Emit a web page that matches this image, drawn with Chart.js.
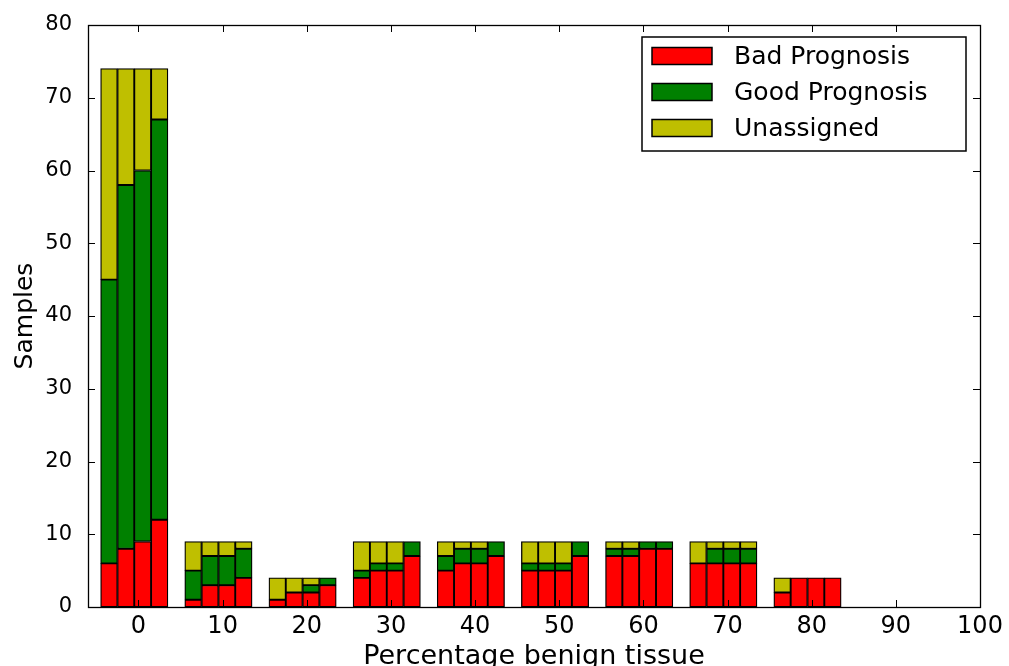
<!DOCTYPE html>
<html>
<head>
<meta charset="utf-8">
<title>Percentage benign tissue</title>
<script src="https://cdn.jsdelivr.net/npm/chart.js@4.4.1/dist/chart.umd.min.js"></script>
<style>
  html, body { margin: 0; padding: 0; background: #fff; }
  #wrap { width: 1009px; height: 666px; }
</style>
</head>
<body>
<div id="wrap"><canvas id="benignChart"></canvas></div>
<script>
// bins of percentage benign tissue, four bars per bin
let groups = [0, 10, 20, 30, 40, 50, 60, 70, 80];
let offsets = [-3.5, -1.5, 0.5, 2.5];

// samples per bar (4 bars per bin, left to right)
let badPrognosis  = [6, 8, 9, 12,  1, 3, 3, 4,  1, 2, 2, 3,  4, 5, 5, 7,  5, 6, 6, 7,  5, 5, 5, 7,  7, 7, 8, 8,  6, 6, 6, 6,  2, 4, 4, 4];
let goodPrognosis = [39, 50, 51, 55,  4, 4, 4, 4,  0, 0, 1, 1,  1, 1, 1, 2,  2, 2, 2, 2,  1, 1, 1, 2,  1, 1, 1, 1,  0, 2, 2, 2,  0, 0, 0, 0];
let unassigned    = [29, 16, 14, 7,  4, 2, 2, 1,  3, 2, 1, 0,  4, 3, 3, 0,  2, 1, 1, 0,  3, 3, 3, 0,  1, 1, 0, 0,  3, 1, 1, 1,  2, 0, 0, 0];

let seriesLabels = ['Bad Prognosis', 'Good Prognosis', 'Unassigned'];
let seriesColors = ['#ff0000', '#008000', '#bfbf00'];

let xTicks = [0, 10, 20, 30, 40, 50, 60, 70, 80, 90, 100];
let yTicks = [0, 10, 20, 30, 40, 50, 60, 70, 80];

let barX = groups.flatMap(g => offsets.map(o => g + o));

function toPoints(values) {
    return values.map((v, i) => ({ x: barX[i], y: v }));
}

Chart.defaults.font.family = "'DejaVu Sans', sans-serif";
Chart.defaults.color = '#000';

// matplotlib-like frame, inward ticks and boxed legend
const frameAndLegend = {
    id: 'frameAndLegend',
    afterDatasetsDraw(chart) {
        const ctx = chart.ctx;
        const area = chart.chartArea;
        const xs = chart.scales.x;
        const ys = chart.scales.y;
        ctx.save();
        ctx.strokeStyle = '#000';
        ctx.lineWidth = 1;
        ctx.beginPath();
        xTicks.forEach(t => {
            const px = Math.round(xs.getPixelForValue(t)) + 0.5;
            ctx.moveTo(px, area.bottom); ctx.lineTo(px, area.bottom - 7);
            ctx.moveTo(px, area.top); ctx.lineTo(px, area.top + 7);
        });
        yTicks.forEach(t => {
            const py = Math.round(ys.getPixelForValue(t)) + 0.5;
            ctx.moveTo(area.left, py); ctx.lineTo(area.left + 7, py);
            ctx.moveTo(area.right, py); ctx.lineTo(area.right - 7, py);
        });
        ctx.stroke();
        ctx.lineWidth = 1.3;
        ctx.strokeRect(Math.round(area.left) + 0.5, Math.round(area.top) + 0.5,
            Math.round(area.right - area.left), Math.round(area.bottom - area.top));

        // legend
        const bx = area.right - 338;
        const by = area.top + 12;
        ctx.fillStyle = '#fff';
        ctx.fillRect(bx, by, 324, 114);
        ctx.lineWidth = 1.5;
        ctx.strokeRect(bx, by, 324, 114);
        ctx.font = "25px 'DejaVu Sans', sans-serif";
        ctx.textBaseline = 'middle';
        seriesLabels.forEach((lab, i) => {
            const cy = by + 19 + i * 36;
            ctx.fillStyle = seriesColors[i];
            ctx.fillRect(bx + 10, cy - 8.5, 60, 17);
            ctx.strokeRect(bx + 10, cy - 8.5, 60, 17);
            ctx.fillStyle = '#000';
            ctx.fillText(lab, bx + 92, cy + 1);
        });
        ctx.restore();
    }
};

let ctx = document.getElementById('benignChart').getContext('2d');

let benignChart = new Chart(ctx, {
    type: 'bar',
    data: {
        datasets: [
            { label: seriesLabels[0], data: toPoints(badPrognosis), backgroundColor: seriesColors[0] },
            { label: seriesLabels[1], data: toPoints(goodPrognosis), backgroundColor: seriesColors[1] },
            { label: seriesLabels[2], data: toPoints(unassigned), backgroundColor: seriesColors[2] }
        ]
    },
    options: {
        responsive: true,
        maintainAspectRatio: false,
        animation: false,
        layout: { padding: { left: 0, top: 25, right: 29, bottom: 0 } },
        datasets: {
            bar: {
                borderColor: '#000',
                borderWidth: 1.3,
                borderSkipped: false,
                barPercentage: 1,
                categoryPercentage: 1
            }
        },
        plugins: {
            legend: { display: false },
            tooltip: { enabled: false }
        },
        scales: {
            x: {
                type: 'linear',
                stacked: true,
                offset: false,
                min: -6,
                max: 100,
                grid: { display: false },
                border: { display: false },
                afterBuildTicks: scale => { scale.ticks = xTicks.map(v => ({ value: v })); },
                afterFit: scale => { scale.height = 59; },
                ticks: { padding: -3, font: { size: 24 } },
                title: {
                    display: true,
                    text: 'Percentage benign tissue',
                    font: { size: 27 },
                    padding: { top: 0, bottom: -7 }
                }
            },
            y: {
                stacked: true,
                min: 0,
                max: 80,
                grid: { display: false },
                border: { display: false },
                afterBuildTicks: scale => { scale.ticks = yTicks.map(v => ({ value: v })); },
                afterFit: scale => { scale.width = 88; },
                ticks: { padding: 8, font: { size: 21 } },
                title: {
                    display: true,
                    text: 'Samples',
                    font: { size: 25 },
                    padding: { top: 10, bottom: 0 }
                }
            }
        }
    },
    plugins: [frameAndLegend]
});
</script>
</body>
</html>
